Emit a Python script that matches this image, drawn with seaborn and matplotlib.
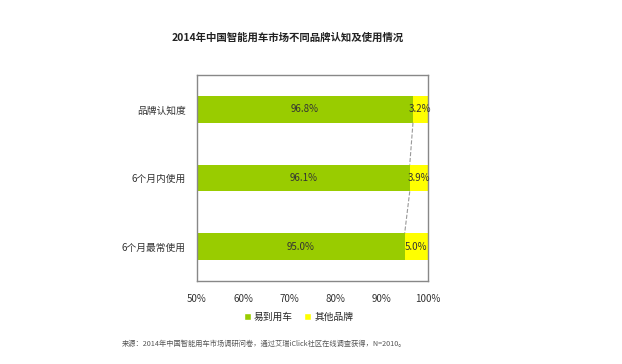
import matplotlib
matplotlib.use("Agg")
import matplotlib.pyplot as plt
import seaborn as sns
import pandas as pd
from matplotlib.patches import Patch

categories = ["品牌认知度", "6个月内使用", "6个月最常使用"]
yidao = [96.8, 96.1, 95.0]
others = [3.2, 3.9, 5.0]
series_names = ["易到用车", "其他品牌"]
xticks = [50, 60, 70, 80, 90, 100]
xtick_labels = ["50%", "60%", "70%", "80%", "90%", "100%"]
title = "2014年中国智能用车市场不同品牌认知及使用情况"
source = "来源：2014年中国智能用车市场调研问卷，通过艾瑞iClick社区在线调查获得，N=2010。"

sns.set_theme(style="white")
plt.rcParams['font.family'] = ['Noto Sans CJK SC', 'DejaVu Sans']

green = "#99cc00"
yellow = "#ffff00"

df = pd.DataFrame({"cat": categories, "yidao": yidao, "others": others})
df["total"] = df["yidao"] + df["others"]

fig = plt.figure(figsize=(6.22, 3.64), dpi=100)
ax = fig.add_axes([0.3167, 0.228, 0.371, 0.566])

bw = 0.39
sns.barplot(data=df, y="cat", x="total", color=yellow, width=bw, ax=ax,
            orient="h", saturation=1, linewidth=0)
sns.barplot(data=df, y="cat", x="yidao", color=green, width=bw, ax=ax,
            orient="h", saturation=1, linewidth=0)

ax.set_xlim(50, 100)
ax.set_ylim(2.5, -0.5)
ax.set_xticks(xticks)
ax.set_xticklabels(xtick_labels, fontsize=7, color="#333333")
ax.tick_params(axis="y", labelsize=7, colors="#333333", length=0, pad=8)
ax.tick_params(axis="x", length=0, pad=9)
ax.set_xlabel("")
ax.set_ylabel("")
for s in ax.spines.values():
    s.set_color("#888888")
    s.set_linewidth(1)

for i, (g, o) in enumerate(zip(yidao, others)):
    ax.text((50 + g) / 2, i, f"{g:.1f}%", ha="center", va="center", fontsize=7, color="#333333")
    ax.text(g + o / 2, i, f"{o:.1f}%", ha="center", va="center", fontsize=7, color="#333333")

for i in range(len(yidao) - 1):
    ax.plot([yidao[i], yidao[i + 1]], [i + bw / 2, i + 1 - bw / 2],
            ls="--", color="#999999", lw=0.8)

handles = [Patch(facecolor=green, label=series_names[0]),
           Patch(facecolor=yellow, label=series_names[1])]
fig.legend(handles=handles, loc="center", bbox_to_anchor=(0.48, 0.129), ncol=2,
           frameon=False, fontsize=7, handlelength=0.7, handleheight=0.7,
           handletextpad=0.3, columnspacing=1.2)

fig.text(0.462, 0.896, title, ha="center", va="center", fontsize=7.5, fontweight="bold", color="#222222")
fig.text(0.196, 0.055, source, ha="left", va="center", fontsize=5.2, color="#555555")

fig.savefig("out.png", dpi=100, facecolor="white")
